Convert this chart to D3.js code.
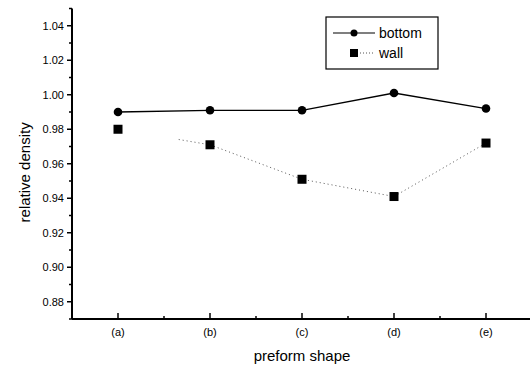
<!DOCTYPE html>
<html>
<head>
<meta charset="utf-8">
<script src="https://cdn.jsdelivr.net/npm/d3@7/dist/d3.min.js"></script>
<style>
  body { margin: 0; background: #fff; }
  text { font-family: "Liberation Sans", Arial, sans-serif; fill: #000; }
</style>
</head>
<body>
<div id="chart"></div>
<script>
// data
const shapes = ["(a)", "(b)", "(c)", "(d)", "(e)"];
const bottom = [0.990, 0.991, 0.991, 1.001, 0.992];
const wall = [0.980, 0.971, 0.951, 0.941, 0.972];
const yTicks = [0.88, 0.90, 0.92, 0.94, 0.96, 0.98, 1.00, 1.02, 1.04];

const width = 530, height = 366;

const svg = d3.select("#chart").append("svg")
  .attr("width", width).attr("height", height);

const x = d3.scaleLinear().domain([-0.5, 4.5]).range([72, 532]);
const y = d3.scaleLinear().domain([0.87, 1.05]).range([319, 8.5]);

// y axis
const yAxis = svg.append("g").attr("transform", "translate(72,0)");
yAxis.append("line").attr("x1", 0).attr("x2", 0)
  .attr("y1", y(1.05)).attr("y2", y(0.87))
  .attr("stroke", "#000").attr("stroke-width", 2);
yAxis.selectAll(".minor").data(d3.range(0.87, 1.05, 0.02))
  .enter().append("line")
  .attr("x1", -3).attr("x2", 0)
  .attr("y1", d => y(d)).attr("y2", d => y(d))
  .attr("stroke", "#000").attr("stroke-width", 1.5);
yAxis.selectAll(".major").data(yTicks).enter().append("line")
  .attr("x1", -5).attr("x2", 0)
  .attr("y1", d => y(d)).attr("y2", d => y(d))
  .attr("stroke", "#000").attr("stroke-width", 1.5);
yAxis.selectAll(".lbl").data(yTicks).enter().append("text")
  .attr("x", -8).attr("y", d => y(d)).attr("dy", "0.35em")
  .attr("text-anchor", "end").attr("font-size", 11)
  .text(d => d3.format(".2f")(d));

// x axis
const xAxis = svg.append("g").attr("transform", `translate(0,${y(0.87)})`);
xAxis.append("line").attr("x1", x(-0.5)).attr("x2", width)
  .attr("y1", 0).attr("y2", 0)
  .attr("stroke", "#000").attr("stroke-width", 2);
xAxis.selectAll(".minor").data(d3.range(0.5, 4, 1)).enter().append("line")
  .attr("x1", d => x(d)).attr("x2", d => x(d))
  .attr("y1", 0).attr("y2", -3)
  .attr("stroke", "#000").attr("stroke-width", 1.5);
xAxis.selectAll(".major").data(shapes).enter().append("line")
  .attr("x1", (d, i) => x(i)).attr("x2", (d, i) => x(i))
  .attr("y1", 0).attr("y2", -6)
  .attr("stroke", "#000").attr("stroke-width", 1.5);
xAxis.selectAll(".lbl").data(shapes).enter().append("text")
  .attr("x", (d, i) => x(i)).attr("y", 17)
  .attr("text-anchor", "middle").attr("font-size", 11)
  .text(d => d);

// axis titles
svg.append("text")
  .attr("x", x(2)).attr("y", 361)
  .attr("text-anchor", "middle").attr("font-size", 15)
  .text("preform shape");
svg.append("text")
  .attr("transform", `translate(30,${y(0.955)}) rotate(-90)`)
  .attr("text-anchor", "middle").attr("font-size", 15)
  .text("relative density");

// bottom series
const line = d3.line().x((d, i) => x(i)).y(d => y(d));
svg.append("path").datum(bottom).attr("d", line)
  .attr("fill", "none").attr("stroke", "#000").attr("stroke-width", 1.3);
svg.selectAll(".dot").data(bottom).enter().append("circle")
  .attr("cx", (d, i) => x(i)).attr("cy", d => y(d)).attr("r", 4.3)
  .attr("fill", "#000");

// wall series: dotted line, faint start between (a) and (b)
const wallPts = wall.map((d, i) => [x(i), y(d)]);
const startPt = d3.interpolate(wallPts[0], wallPts[1])(0.66);
const wallLine = [startPt].concat(wallPts.slice(1));
svg.append("path").datum(wallLine)
  .attr("d", d3.line())
  .attr("fill", "none").attr("stroke", "#555").attr("stroke-width", 1)
  .attr("stroke-dasharray", "1,3");
svg.selectAll(".sq").data(wall).enter().append("rect")
  .attr("x", (d, i) => x(i) - 4.5).attr("y", d => y(d) - 4.5)
  .attr("width", 9).attr("height", 9).attr("fill", "#000");

// legend
const lg = svg.append("g");
lg.append("rect").attr("x", 326).attr("y", 17).attr("width", 112).attr("height", 52)
  .attr("fill", "#fff").attr("stroke", "#000").attr("stroke-width", 1.2);
lg.append("line").attr("x1", 333).attr("x2", 375).attr("y1", 33).attr("y2", 33)
  .attr("stroke", "#000").attr("stroke-width", 1.2);
lg.append("circle").attr("cx", 354).attr("cy", 33).attr("r", 3.5).attr("fill", "#000");
lg.append("text").attr("x", 379).attr("y", 33).attr("dy", "0.35em")
  .attr("font-size", 14).text("bottom");
lg.append("line").attr("x1", 354).attr("x2", 375).attr("y1", 53).attr("y2", 53)
  .attr("stroke", "#555").attr("stroke-width", 1).attr("stroke-dasharray", "1,2");
lg.append("rect").attr("x", 350).attr("y", 49).attr("width", 8).attr("height", 8).attr("fill", "#000");
lg.append("text").attr("x", 379).attr("y", 53).attr("dy", "0.35em")
  .attr("font-size", 14).text("wall");
</script>
</body>
</html>
